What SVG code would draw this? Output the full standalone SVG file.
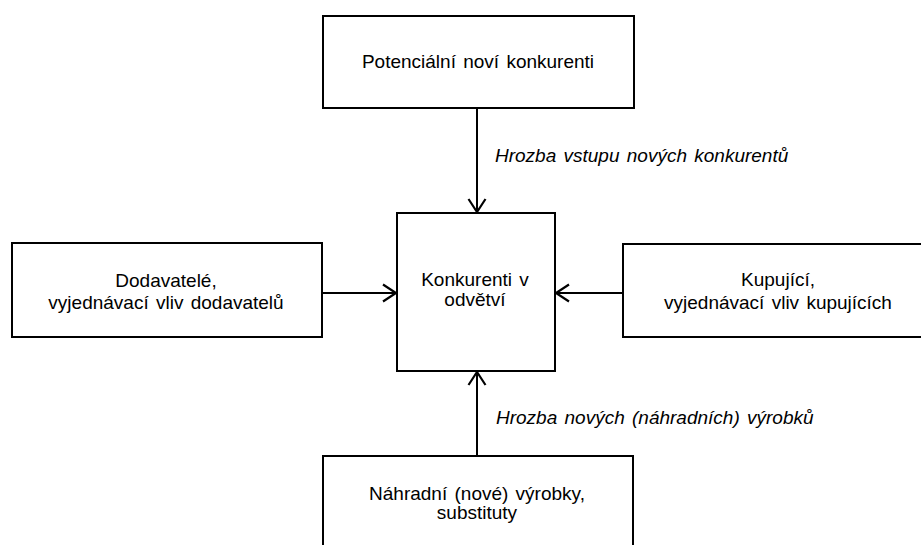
<svg xmlns="http://www.w3.org/2000/svg" width="921" height="545" viewBox="0 0 921 545">
<style>
.box{fill:#fff;stroke:#000;stroke-width:2}
.t{font-family:"Liberation Sans",Arial,sans-serif;font-size:19px;fill:#000;text-anchor:middle;word-spacing:2px}
.lbl{font-family:"Liberation Sans",Arial,sans-serif;font-size:19px;font-style:italic;fill:#000;word-spacing:2px}
.c{stroke:#000;stroke-width:2;fill:none}
</style>
<defs>
<marker id="arr" markerUnits="userSpaceOnUse" markerWidth="18" markerHeight="22" refX="14" refY="10" orient="auto">
<path d="M1,1.5 L14,10 L1,18.5" fill="none" stroke="#000" stroke-width="2.2"/>
</marker>
</defs>
<rect width="921" height="545" fill="#fff"/>
<g id="connectors">
<line class="c" x1="477" y1="108" x2="477" y2="212" marker-end="url(#arr)"/>
<line class="c" x1="322" y1="293" x2="396" y2="293" marker-end="url(#arr)"/>
<line class="c" x1="623" y1="293" x2="556" y2="293" marker-end="url(#arr)"/>
<line class="c" x1="477" y1="456" x2="477" y2="372" marker-end="url(#arr)"/>
<text class="lbl" x="495" y="162">Hrozba vstupu nových konkurentů</text>
<text class="lbl" x="496" y="424">Hrozba nových (náhradních) výrobků</text>
</g>
<g id="top">
<rect class="box" x="323" y="16" width="311" height="92"/>
<text class="t" x="478" y="68">Potenciální noví konkurenti</text>
</g>
<g id="center">
<rect class="box" x="397" y="213" width="158" height="158"/>
<text class="t"><tspan x="475" y="286">Konkurenti v</tspan><tspan x="475" y="306">odvětví</tspan></text>
</g>
<g id="left">
<rect class="box" x="12" y="243" width="310" height="94"/>
<text class="t"><tspan x="166" y="287">Dodavatelé,</tspan><tspan x="166" y="309">vyjednávací vliv dodavatelů</tspan></text>
</g>
<g id="right">
<rect class="box" x="623" y="244" width="310" height="93"/>
<text class="t"><tspan x="778" y="286">Kupující,</tspan><tspan x="778" y="309">vyjednávací vliv kupujících</tspan></text>
</g>
<g id="bottom">
<rect class="box" x="323" y="456" width="310" height="100"/>
<text class="t"><tspan x="477" y="500">Náhradní (nové) výrobky,</tspan><tspan x="477" y="519">substituty</tspan></text>
</g>
</svg>
